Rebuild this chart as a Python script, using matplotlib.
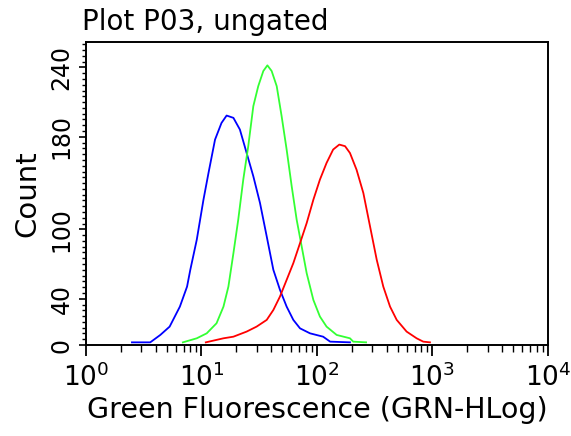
import numpy as np
import matplotlib
matplotlib.use("Agg")
import matplotlib.pyplot as plt
from matplotlib.ticker import FixedLocator, MultipleLocator, LogLocator, NullFormatter

# histogram outlines (fluorescence value, count)
blue_x = [2.5, 3.6, 4.4, 5.3, 6.5, 7.5, 8.0, 9.1, 10.4, 11.5, 13.1, 14.9, 16.5, 18.9,
          21.5, 24.6, 28.1, 32.1, 36.7, 41.9, 47.8, 54.6, 62.4, 71.3, 87, 113, 130, 193]
blue_y = [2.3, 2.3, 8.7, 15.9, 33.2, 50.5, 65, 91, 125.6, 148.8, 177.6, 192, 198.4, 196.4,
          186.3, 166, 145.9, 122.8, 93.9, 65, 47.7, 33.2, 21.7, 14.4, 10.1, 7.2, 2.9, 2.3]

green_x = [6.9, 9.1, 11.1, 13.5, 15.5, 17.1, 18.9, 20.8, 23.0, 25.4, 28.1, 31.0, 34.3, 37.2,
           40.5, 44.8, 49.4, 54.6, 60.4, 66.7, 73.7, 81.4, 93.0, 106, 121, 148, 193, 206, 266]
green_y = [2.3, 5.8, 10.1, 18.8, 33.2, 50.5, 79.4, 108.3, 143, 171.9, 206.5, 223.8, 236.9, 241.8,
           236.9, 223.8, 197.9, 169, 137.2, 108.3, 85.2, 62.1, 39, 24.6, 15.9, 8.7, 5.8, 2.9, 2.3]

red_x = [10.9, 15.5, 18.9, 24.6, 30.0, 36.7, 41.9, 47.8, 54.6, 62.4, 71.3, 81.4, 93.0, 106, 121,
         138, 156, 175, 193, 220, 252, 288, 329, 375, 429, 490, 597, 729, 832, 951]
red_y = [2.3, 5.8, 7.2, 11.6, 15.9, 21.7, 30.3, 41.9, 56.3, 70.8, 88.1, 105.4, 125.6, 143, 157.4,
         169, 173.3, 171.9, 166, 151.6, 131.4, 102.5, 73.7, 50.5, 33.2, 21.7, 11.6, 5.8, 2.9, 2.3]

y_ticks = [0, 40, 100, 180, 240]
y_labels = ["0", "40", "100", "180", "240"]

fig = plt.figure(figsize=(5.71, 4.36), dpi=100)
ax = fig.add_axes([0.1506, 0.2087, 0.8091, 0.695])

ax.plot(blue_x, blue_y, color="#0000ff", lw=1.3)
ax.plot(green_x, green_y, color="#33ff33", lw=1.3)
ax.plot(red_x, red_y, color="#ff0000", lw=1.3)

ax.set_xscale("log")
ax.set_xlim(1, 1e4)
ax.set_ylim(0, 262)

ax.xaxis.set_major_locator(LogLocator(base=10, numticks=10))
ax.xaxis.set_minor_locator(LogLocator(base=10, subs=np.arange(2, 10), numticks=10))
ax.xaxis.set_minor_formatter(NullFormatter())

ax.yaxis.set_major_locator(FixedLocator(y_ticks))
ax.set_yticklabels(y_labels, rotation=90, va="center")
ax.yaxis.set_minor_locator(MultipleLocator(5))

ax.tick_params(axis="x", which="major", length=8, width=1.3, labelsize=19, pad=5)
ax.tick_params(axis="x", which="minor", length=5, width=1.0)
ax.tick_params(axis="y", which="major", length=5, width=1.2, labelsize=17, pad=4)
ax.tick_params(axis="y", which="minor", length=3, width=1.0)

for s in ax.spines.values():
    s.set_linewidth(1.4)
    s.set_color("black")

ax.set_xlabel("Green Fluorescence (GRN-HLog)", fontsize=20.5, labelpad=3)
ax.set_ylabel("Count", fontsize=21, labelpad=6)
fig.text(0.1436, 0.931, "Plot P03, ungated", fontsize=20, ha="left", va="baseline")

fig.savefig("out.png", dpi=100)
